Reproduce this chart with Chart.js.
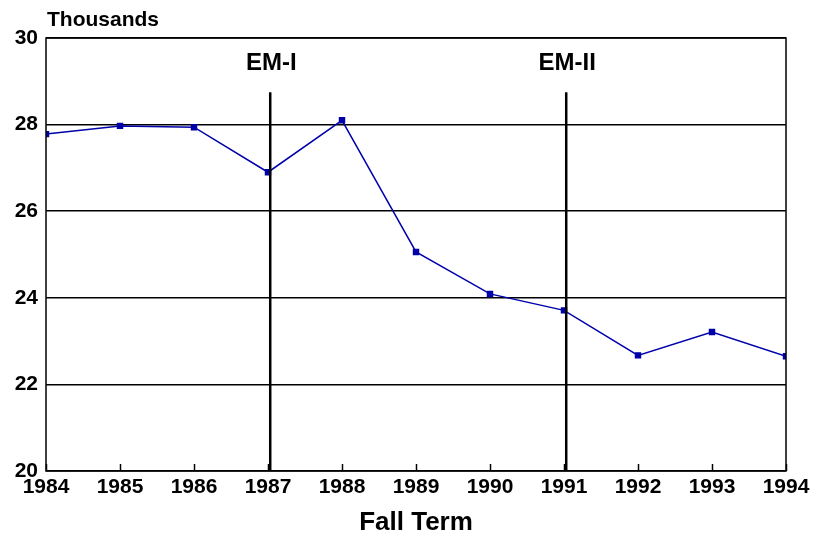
<!DOCTYPE html>
<html>
<head>
<meta charset="utf-8">
<script src="https://cdn.jsdelivr.net/npm/chart.js@4"></script>
<style>
  html, body { margin: 0; padding: 0; background: #fff; }
  #wrap { width: 820px; height: 538px; }
</style>
</head>
<body>
<div id="wrap"><canvas id="enrollChart" width="820" height="538"></canvas></div>
<script>
// Fall term enrollment, thousands
const years = [1984, 1985, 1986, 1987, 1988, 1989, 1990, 1991, 1992, 1993, 1994];
const enrollment = [27.78, 27.97, 27.94, 26.9, 28.1, 25.06, 24.09, 23.71, 22.67, 23.21, 22.65];
const eventYears = [1987.03, 1991.03];
const eventLabels = ['EM-I', 'EM-II'];
const eventTop = 28.75;  // where the marker lines start

const FONT = "'Liberation Sans', Arial, sans-serif";

// frame, inward x ticks, event lines and the "Thousands" label
const decorations = {
    id: 'decorations',
    afterDraw(chart) {
        const { ctx, chartArea: a, scales: { x, y } } = chart;
        ctx.save();
        ctx.strokeStyle = '#000';

        // x tick marks pointing up into the plot
        ctx.lineWidth = 1.5;
        years.forEach(yr => {
            const px = Math.round(x.getPixelForValue(yr)) + 0.5;
            ctx.beginPath();
            ctx.moveTo(px, a.bottom);
            ctx.lineTo(px, a.bottom - 7);
            ctx.stroke();
        });

        // event marker lines
        ctx.lineWidth = 2.5;
        ctx.fillStyle = '#000';
        ctx.font = `bold 24px ${FONT}`;
        ctx.textAlign = 'center';
        ctx.textBaseline = 'middle';
        eventYears.forEach((yr, i) => {
            const px = x.getPixelForValue(yr);
            ctx.beginPath();
            ctx.moveTo(px, y.getPixelForValue(eventTop));
            ctx.lineTo(px, a.bottom);
            ctx.stroke();
            ctx.fillText(eventLabels[i], px + 1, 63);
        });

        // frame
        ctx.lineWidth = 1.5;
        ctx.strokeRect(a.left, a.top, a.right - a.left, a.bottom - a.top);

        ctx.font = `bold 21px ${FONT}`;
        ctx.textAlign = 'left';
        ctx.textBaseline = 'alphabetic';
        ctx.fillText('Thousands', a.left + 1, 26);
        ctx.restore();
    }
};

const ctx = document.getElementById('enrollChart').getContext('2d');
new Chart(ctx, {
    type: 'line',
    data: {
        datasets: [{
            label: 'Fall Term Enrollment',
            data: years.map((yr, i) => ({ x: yr, y: enrollment[i] })),
            borderColor: '#0000aa',
            backgroundColor: '#0000aa',
            borderWidth: 1.5,
            pointStyle: 'rect',
            pointRadius: 3.5,
            tension: 0,
            fill: false
        }]
    },
    options: {
        responsive: false,
        animation: false,
        layout: { padding: { top: 38, right: 34, left: 0, bottom: 0 } },
        scales: {
            x: {
                type: 'linear',
                min: 1984,
                max: 1994,
                afterFit(scale) { scale.height = 67; },
                ticks: {
                    stepSize: 1,
                    padding: 4,
                    color: '#000',
                    font: { family: FONT, size: 21, weight: 'bold' },
                    callback: v => String(v)
                },
                grid: { display: false, drawTicks: false },
                border: { display: false },
                title: {
                    display: true,
                    text: 'Fall Term',
                    color: '#000',
                    font: { family: FONT, size: 26, weight: 'bold' },
                    padding: { top: 3, bottom: 0 }
                }
            },
            y: {
                min: 20,
                max: 30,
                afterFit(scale) { scale.width = 46; },
                ticks: {
                    stepSize: 2,
                    padding: 8,
                    color: '#000',
                    font: { family: FONT, size: 21, weight: 'bold' }
                },
                grid: { color: '#000', lineWidth: 1.5, drawTicks: false },
                border: { display: false }
            }
        },
        plugins: {
            legend: { display: false },
            tooltip: { enabled: false }
        }
    },
    plugins: [decorations]
});
</script>
</body>
</html>
